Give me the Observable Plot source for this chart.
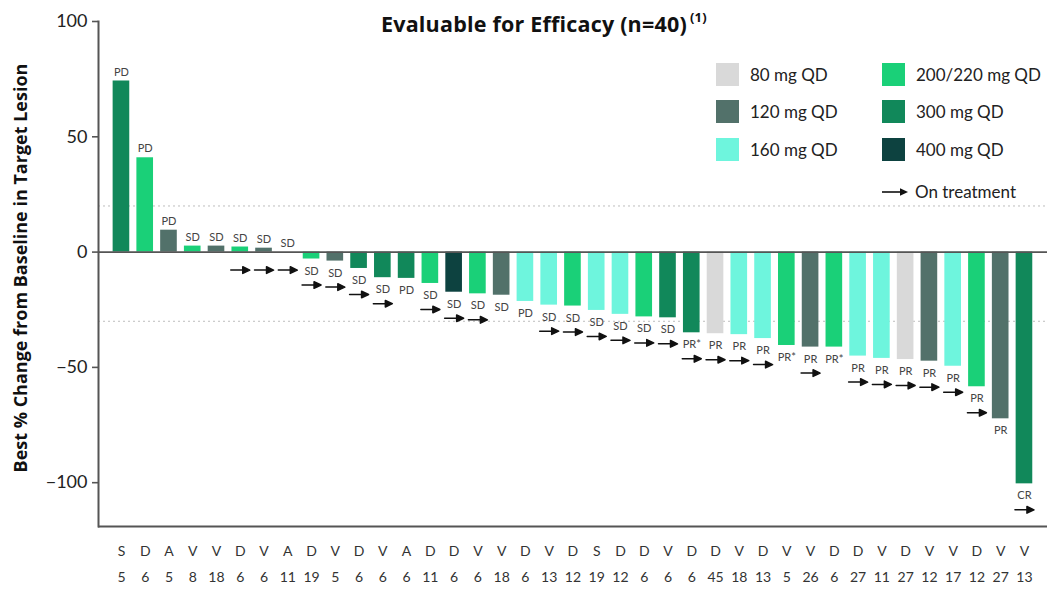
<!DOCTYPE html>
<html><head><meta charset="utf-8">
<script src="https://cdn.jsdelivr.net/npm/d3@7"></script>
<script src="https://cdn.jsdelivr.net/npm/@observablehq/plot@0.6"></script>
<style>
body{margin:0;background:#fff;font-family:Lato,"Open Sans",sans-serif;}
#wrap{position:relative;width:1049px;height:597px;overflow:hidden;}
.title{position:absolute;left:381px;top:12px;font-family:"Open Sans",sans-serif;font-size:21.5px;letter-spacing:0.2px;line-height:24px;font-weight:bold;color:#111;white-space:nowrap;}
.title sup{font-size:13px;vertical-align:0;position:relative;top:-10px;margin-left:3px;}
.ylab{position:absolute;left:20px;top:268px;transform:translate(-50%,-50%) rotate(-90deg);font-family:"Open Sans",sans-serif;font-size:18px;font-weight:bold;color:#111;white-space:nowrap;}
.lg{position:absolute;display:flex;align-items:center;font-size:17px;color:#222;white-space:nowrap;}
.sw{width:23px;height:23px;margin-right:11px;}
</style></head><body>
<div id="wrap">
  <div id="chart"></div>
  <div class="title">Evaluable for Efficacy (n=40)<sup>(1)</sup></div>
  <div class="ylab">Best % Change from Baseline in Target Lesion</div>
  <div id="legend"></div>
</div>
<script>
const drugs   = ["S","D","A","V","V","D","V","A","D","V","D","V","A","D","D","V","V","D","V","D","S","D","D","V","D","D","V","D","V","V","D","D","V","D","V","V","D","V","V"];
const numbers = [5,6,5,8,18,6,6,11,19,5,6,6,6,11,6,6,18,6,13,12,19,12,6,6,6,45,18,13,5,26,6,27,11,27,12,17,12,27,13];
const values  = [74.2,40.9,9.5,2.6,2.6,2.2,1.7,0,-3.0,-3.9,-7.1,-11.1,-11.4,-13.6,-17.4,-18.1,-18.7,-21.4,-23.0,-23.4,-25.3,-27.0,-28.1,-28.5,-35.0,-35.4,-35.8,-37.5,-40.5,-41.2,-41.2,-45.1,-46.1,-46.6,-47.3,-49.5,-58.4,-72.3,-100.5];
const doses   = ["300","200/220","120","200/220","120","200/220","120","120","200/220","120","300","300","300","200/220","400","200/220","120","160","160","200/220","160","160","200/220","300","300","80","160","160","200/220","120","200/220","160","160","80","120","160","200/220","120","300"];
const responses = ["PD","PD","PD","SD","SD","SD","SD","SD","SD","SD","SD","SD","PD","SD","SD","SD","SD","PD","SD","SD","SD","SD","SD","SD","PR*","PR","PR","PR","PR*","PR","PR*","PR","PR","PR","PR","PR","PR","PR","CR"];
const onTreatment = [0,0,0,0,0,1,1,1,1,1,1,1,0,1,1,1,0,0,1,1,1,1,1,1,1,1,1,1,0,1,0,1,1,1,1,1,1,0,1];
const doseLevels = ["80","120","160","200/220","300","400"];
const doseLabels = ["80 mg QD","120 mg QD","160 mg QD","200/220 mg QD","300 mg QD","400 mg QD"];
const doseColors = ["#d9d9d9","#52716a","#6ef5dd","#1ad078","#11885a","#0d4240"];
const yTicks = [100,50,0,-50,-100];
const refLines = [20,-30];
const yDomain = [-119,100];
const onTreatmentLabel = "On treatment";

const data = values.map((v,i)=>({i, v, dose: doses[i], resp: responses[i], on: !!onTreatment[i]}));

const arrowShape = {
  draw(ctx, l) {
    ctx.moveTo(0, 0);
    ctx.lineTo(0, -l + 6);
    ctx.moveTo(-3.3, -l + 7);
    ctx.lineTo(0, -l);
    ctx.lineTo(3.3, -l + 7);
    ctx.closePath();
  }
};

const plot = Plot.plot({
  width: 1049, height: 597,
  marginTop: 21, marginBottom: 71, marginLeft: 98, marginRight: 2,
  style: {fontFamily: "Lato, 'Open Sans', sans-serif", background: "white", color: "#222", overflow: "visible"},
  x: {type: "band", domain: d3.range(values.length), padding: 0.3, round: false, insetLeft: 7.5, insetRight: 7.6},
  y: {domain: yDomain},
  color: {domain: doseLevels, range: doseColors},
  marks: [
    Plot.ruleY(refLines, {stroke: "#bdbdbd", strokeDasharray: "2,3", strokeWidth: 1}),
    Plot.barY(data, {x: "i", y: "v", fill: "dose"}),
    Plot.ruleY([0], {stroke: "#555", strokeWidth: 1.6}),
    Plot.ruleY([yDomain[0]], {stroke: "#555", strokeWidth: 2}),
    Plot.frame({anchor: "left", stroke: "#555", strokeWidth: 2}),
    Plot.axisY({ticks: yTicks, tickSize: 6, tickPadding: 5, fontSize: 18, label: null, stroke: "#555", strokeWidth: 1.6, fill: "#222"}),
    Plot.axisX({tickSize: 0, tickPadding: 11, fontSize: 14, lineHeight: 1.85, label: null, fill: "#333",
      tickFormat: i => drugs[i] + "\n" + numbers[i]}),
    Plot.text(data.filter(d => d.v >= 0), {x: "i", y: "v", text: "resp", dy: -9, fontSize: 11, fill: "#444"}),
    Plot.text(data.filter(d => d.v < 0), {x: "i", y: "v", text: "resp", dy: 12, fontSize: 11, fill: "#444"}),
    Plot.vector(data.filter(d => d.on && d.v >= 0), {x: "i", y: 0, dy: 18, length: 19, rotate: 90, anchor: "middle", shape: arrowShape, stroke: "#111", fill: "#111", strokeWidth: 1.5}),
    Plot.vector(data.filter(d => d.on && d.v < 0), {x: "i", y: "v", dy: 26, length: 19, rotate: 90, anchor: "middle", shape: arrowShape, stroke: "#111", fill: "#111", strokeWidth: 1.5})
  ]
});
document.getElementById("chart").appendChild(plot);

const legend = document.getElementById("legend");
doseLabels.forEach((lab, k) => {
  const col = k < 3 ? 0 : 1, row = k % 3;
  const el = document.createElement("div");
  el.className = "lg";
  el.style.left = (col === 0 ? 716 : 882) + "px";
  el.style.top = (63 + row * 37.3) + "px";
  el.innerHTML = `<div class="sw" style="background:${doseColors[k]}"></div><span>${lab}</span>`;
  legend.appendChild(el);
});
const ot = document.createElement("div");
ot.className = "lg";
ot.style.left = "882px"; ot.style.top = "180px"; ot.style.height = "23px";
ot.innerHTML = `<svg width="26" height="12" style="margin-right:7px"><line x1="0" y1="6" x2="19" y2="6" stroke="#111" stroke-width="1.6"/><path d="M18,2.3 L26,6 L18,9.7 Z" fill="#111"/></svg><span>${onTreatmentLabel}</span>`;
legend.appendChild(ot);
</script>
</body></html>
